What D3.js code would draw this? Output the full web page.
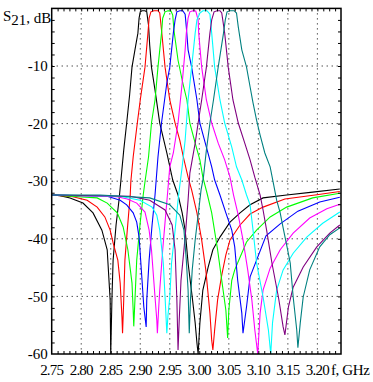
<!DOCTYPE html>
<html>
<head>
<meta charset="utf-8">
<script src="https://cdn.jsdelivr.net/npm/d3@7"></script>
<style>
  body { margin: 0; background: #fff; }
  text { font-family: "Liberation Serif", "Times New Roman", serif; font-size: 15px; fill: #000; }
</style>
</head>
<body>
<svg id="chart" width="373" height="382"></svg>
<script>
// tick labels
const freqTicks = [2.75, 2.80, 2.85, 2.90, 2.95, 3.00, 3.05, 3.10, 3.15, 3.20];
const dbTicks = [-10, -20, -30, -40, -50, -60];

// S21 curves, [f GHz, dB]
const black = [[2.75,-32.4],[2.764,-32.5],[2.781,-32.9],[2.803,-33.8],[2.820,-35.5],[2.835,-38.5],[2.844,-41.9],[2.849,-50.6],[2.850,-60],[2.852,-50.6],[2.854,-43.7],[2.859,-37.6],[2.864,-33.3],[2.867,-30.1],[2.872,-24.6],[2.877,-19.9],[2.882,-15.0],[2.886,-10.2],[2.891,-7.2],[2.896,-4.3],[2.898,-1.7],[2.900,-0.6],[2.903,-0.4],[2.908,-0.4],[2.911,-0.6],[2.914,-2.9],[2.916,-6.4],[2.919,-10.2],[2.925,-14.2],[2.933,-19.9],[2.945,-25.1],[2.955,-29.8],[2.964,-32.4],[2.971,-35.5],[2.976,-38.5],[2.981,-44.2],[2.988,-50.1],[2.993,-54.6],[2.996,-58.1],[2.998,-60],[3.001,-54.6],[3.006,-48.9],[3.015,-44.9],[3.023,-41.9],[3.035,-39.7],[3.052,-37.1],[3.069,-35.5],[3.086,-34.1],[3.108,-32.9],[3.148,-32.4],[3.192,-31.9],[3.238,-31.35]];
const red = [[2.75,-32.4],[2.786,-32.7],[2.810,-33.3],[2.827,-34.5],[2.840,-36.2],[2.849,-38.5],[2.854,-40.7],[2.862,-43.7],[2.866,-47.7],[2.869,-53.6],[2.870,-56.4],[2.872,-50.6],[2.874,-43.7],[2.878,-38.5],[2.883,-32.4],[2.884,-30.1],[2.888,-25.8],[2.895,-19.9],[2.900,-15.9],[2.908,-10.2],[2.913,-4.3],[2.915,-1.7],[2.918,-0.6],[2.923,-0.4],[2.930,-0.4],[2.933,-0.8],[2.936,-3.75],[2.942,-10.2],[2.950,-15.9],[2.959,-19.9],[2.967,-22.9],[2.973,-25.8],[2.981,-29.3],[2.987,-31.5],[2.996,-35.5],[3.004,-40.2],[3.011,-45.4],[3.018,-52.9],[3.021,-57.6],[3.023,-59.3],[3.026,-55.8],[3.031,-50.6],[3.038,-46.3],[3.045,-42.8],[3.052,-40.2],[3.069,-37.6],[3.086,-35.7],[3.108,-34.5],[3.145,-33.1],[3.196,-32.4],[3.238,-31.8]];
const green = [[2.75,-32.4],[2.827,-32.9],[2.844,-33.8],[2.861,-35.5],[2.871,-37.95],[2.879,-41.9],[2.886,-47.7],[2.888,-52.4],[2.889,-55.2],[2.891,-50.6],[2.894,-43.7],[2.8995,-37.6],[2.905,-32.4],[2.908,-30.1],[2.914,-25.8],[2.919,-19.9],[2.925,-15.9],[2.930,-10.2],[2.936,-4.3],[2.938,-1.7],[2.942,-0.6],[2.947,-0.4],[2.952,-0.45],[2.955,-1.15],[2.957,-3.75],[2.964,-9.0],[2.972,-12.95],[2.979,-15.9],[2.984,-19.9],[2.993,-23.4],[3.001,-26.3],[3.006,-29.3],[3.013,-32.05],[3.021,-35.5],[3.031,-41.9],[3.038,-47.2],[3.045,-52.4],[3.048,-57.2],[3.050,-52.4],[3.055,-47.2],[3.060,-45.4],[3.069,-43.2],[3.080,-40.55],[3.097,-38.5],[3.120,-36.2],[3.148,-34.5],[3.192,-32.9],[3.238,-32.1]];
const blue = [[2.75,-32.4],[2.844,-32.6],[2.866,-33.3],[2.877,-34.1],[2.888,-35.5],[2.894,-37.1],[2.898,-39.7],[2.903,-47.2],[2.906,-51.8],[2.910,-55.3],[2.911,-50.6],[2.915,-43.7],[2.920,-37.6],[2.925,-32.4],[2.930,-25.8],[2.936,-19.9],[2.945,-12.95],[2.950,-10.2],[2.956,-4.3],[2.959,-2.0],[2.962,-0.6],[2.967,-0.4],[2.972,-0.4],[2.976,-1.0],[2.978,-3.2],[2.981,-7.2],[2.987,-10.2],[2.996,-15.9],[3.001,-19.9],[3.012,-24.1],[3.021,-27.5],[3.026,-29.8],[3.035,-32.4],[3.045,-35.5],[3.055,-38.5],[3.060,-41.4],[3.065,-47.2],[3.072,-52.9],[3.074,-56.4],[3.077,-54.1],[3.080,-51.8],[3.086,-46.6],[3.097,-43.7],[3.113,-39.5],[3.137,-37.4],[3.167,-35.2],[3.204,-33.6],[3.238,-32.8]];
const magenta = [[2.75,-32.4],[2.861,-32.7],[2.878,-33.1],[2.894,-33.8],[2.908,-35.35],[2.915,-38.5],[2.919,-41.9],[2.925,-50.1],[2.928,-54.1],[2.929,-56.4],[2.931,-52.4],[2.933,-48.9],[2.938,-41.9],[2.942,-37.1],[2.946,-32.4],[2.950,-27.5],[2.956,-25.1],[2.964,-19.9],[2.971,-12.95],[2.976,-7.2],[2.978,-4.3],[2.981,-1.7],[2.984,-0.6],[2.989,-0.4],[2.994,-0.45],[2.998,-2.0],[2.999,-4.3],[3.004,-10.2],[3.012,-15.9],[3.021,-19.9],[3.032,-23.4],[3.043,-26.3],[3.052,-29.3],[3.058,-32.4],[3.066,-35.9],[3.074,-40.2],[3.082,-45.4],[3.089,-50.6],[3.094,-55.8],[3.099,-60],[3.103,-52.9],[3.108,-48.9],[3.120,-45.1],[3.137,-41.9],[3.159,-39.0],[3.187,-36.4],[3.216,-34.8],[3.238,-34.0]];
const cyan = [[2.75,-32.4],[2.866,-32.6],[2.8995,-33.3],[2.920,-34.5],[2.928,-35.9],[2.933,-38.5],[2.939,-44.2],[2.942,-50.1],[2.945,-56.4],[2.947,-53.2],[2.950,-50.1],[2.953,-44.2],[2.959,-38.5],[2.964,-33.3],[2.967,-30.7],[2.971,-27.5],[2.976,-22.9],[2.981,-15.9],[2.987,-10.2],[2.993,-4.3],[2.996,-2.0],[3.001,-0.8],[3.006,-0.4],[3.013,-0.4],[3.018,-1.0],[3.021,-4.3],[3.026,-10.2],[3.035,-15.9],[3.043,-19.9],[3.055,-24.1],[3.063,-27.5],[3.072,-29.8],[3.080,-32.4],[3.086,-34.1],[3.091,-38.5],[3.097,-44.2],[3.108,-50.1],[3.117,-55.8],[3.121,-60],[3.124,-54.6],[3.131,-48.9],[3.142,-45.4],[3.159,-42.5],[3.182,-39.7],[3.209,-37.3],[3.238,-35.35]];
const purple = [[2.75,-32.4],[2.883,-32.6],[2.916,-33.3],[2.942,-35.0],[2.954,-37.6],[2.959,-41.9],[2.962,-50.6],[2.964,-59.3],[2.966,-54.1],[2.969,-47.2],[2.974,-41.9],[2.977,-38.5],[2.981,-33.3],[2.984,-28.6],[2.993,-23.4],[2.998,-19.9],[3.004,-15.9],[3.012,-10.2],[3.018,-4.3],[3.021,-2.0],[3.025,-0.6],[3.030,-0.4],[3.035,-0.4],[3.038,-0.8],[3.043,-4.3],[3.049,-10.2],[3.057,-15.9],[3.066,-19.9],[3.077,-23.4],[3.086,-26.3],[3.094,-29.3],[3.103,-32.4],[3.108,-35.0],[3.114,-38.5],[3.123,-44.2],[3.134,-50.1],[3.142,-55.3],[3.145,-56.7],[3.151,-51.8],[3.159,-48.4],[3.176,-44.9],[3.199,-41.4],[3.221,-39.0],[3.238,-37.6]];
const teal = [[2.75,-32.4],[2.832,-32.4],[2.916,-32.9],[2.950,-34.1],[2.967,-35.9],[2.974,-38.5],[2.978,-43.7],[2.981,-48.9],[2.983,-56.4],[2.985,-50.6],[2.988,-45.4],[2.993,-40.2],[2.998,-35.9],[3.003,-31.5],[3.007,-29.3],[3.012,-24.6],[3.018,-19.9],[3.024,-15.9],[3.032,-10.2],[3.041,-4.3],[3.044,-2.0],[3.047,-0.6],[3.052,-0.4],[3.059,-0.4],[3.063,-0.8],[3.066,-3.2],[3.072,-7.2],[3.080,-10.2],[3.086,-13.6],[3.091,-16.4],[3.097,-19.4],[3.103,-22.0],[3.111,-25.1],[3.120,-27.5],[3.125,-30.1],[3.131,-33.3],[3.137,-35.5],[3.142,-38.1],[3.148,-41.1],[3.154,-44.2],[3.159,-50.1],[3.165,-55.8],[3.167,-58.9],[3.171,-54.6],[3.176,-50.1],[3.187,-45.4],[3.204,-41.4],[3.221,-39.3],[3.238,-38.1]];

const series = [
  { data: black, color: "#000000" },
  { data: red, color: "#ff0000" },
  { data: green, color: "#00ff00" },
  { data: blue, color: "#0000ff" },
  { data: magenta, color: "#ff00ff" },
  { data: cyan, color: "#00ffff" },
  { data: purple, color: "#800080" },
  { data: teal, color: "#008080" }
];

const plotLeft = 51.7, plotTop = 8.4;
const width = 341 - plotLeft, height = 354 - plotTop;

const svg = d3.select("#chart");
const g = svg.append("g").attr("transform", "translate(" + plotLeft + "," + plotTop + ")");

const x = d3.scaleLinear().domain([2.75, 3.24]).range([0, width]);
const y = d3.scaleLinear().domain([-60, 0]).range([height, 0]);

// dotted grid
g.selectAll(".gx")
  .data(freqTicks.slice(1))
  .enter().append("line")
  .attr("x1", d => x(d)).attr("x2", d => x(d))
  .attr("y1", 0).attr("y2", height)
  .attr("stroke", "#000").attr("stroke-dasharray", "1,4");

g.selectAll(".gy")
  .data(dbTicks.slice(0, -1))
  .enter().append("line")
  .attr("x1", 0).attr("x2", width)
  .attr("y1", d => y(d)).attr("y2", d => y(d))
  .attr("stroke", "#000").attr("stroke-dasharray", "1,4");

// curves
svg.append("clipPath").attr("id", "clip")
  .append("rect").attr("width", width).attr("height", height);

const line = d3.line()
  .x(d => x(d[0]))
  .y(d => y(d[1]));

g.append("g").attr("clip-path", "url(#clip)")
  .selectAll("path")
  .data(series)
  .enter().append("path")
  .attr("d", d => line(d.data))
  .attr("fill", "none")
  .attr("stroke", d => d.color)
  .attr("stroke-width", 1.1);

// inward minor ticks
const xMinor = d3.range(1, 49).map(i => 2.75 + i * 0.01);
const yMinor = d3.range(1, 30).map(i => -60 + i * 2);

g.append("g").call(d3.axisTop(x).tickValues(xMinor).tickSize(-3).tickFormat(""));
g.append("g").attr("transform", "translate(0," + height + ")")
  .call(d3.axisBottom(x).tickValues(xMinor).tickSize(-3).tickFormat(""));
g.append("g").call(d3.axisLeft(y).tickValues(yMinor).tickSize(-3).tickFormat(""));
g.append("g").attr("transform", "translate(" + width + ",0)")
  .call(d3.axisRight(y).tickValues(yMinor).tickSize(-3).tickFormat(""));
g.selectAll(".domain").remove();

// frame
g.append("rect")
  .attr("width", width).attr("height", height)
  .attr("fill", "none").attr("stroke", "#000").attr("stroke-width", 1.5);

// tick labels
g.selectAll(".xl")
  .data(freqTicks)
  .enter().append("text")
  .attr("x", d => x(d))
  .attr("y", height + 21)
  .attr("text-anchor", "middle")
  .style("letter-spacing", "-0.8px")
  .text(d => d.toFixed(2));

g.selectAll(".yl")
  .data(dbTicks)
  .enter().append("text")
  .attr("x", -4)
  .attr("y", d => y(d))
  .attr("dy", "0.35em")
  .attr("text-anchor", "end")
  .text(d => d);

// axis titles
svg.append("text")
  .attr("x", 331).attr("y", 375)
  .style("letter-spacing", "-0.4px")
  .text("f, GHz");

const yt = svg.append("text").attr("x", 3).attr("y", 21);
yt.append("tspan").text("S");
yt.append("tspan").attr("dy", 4).text("21");
yt.append("tspan").attr("dy", -2).text(", dB");
</script>
</body>
</html>
